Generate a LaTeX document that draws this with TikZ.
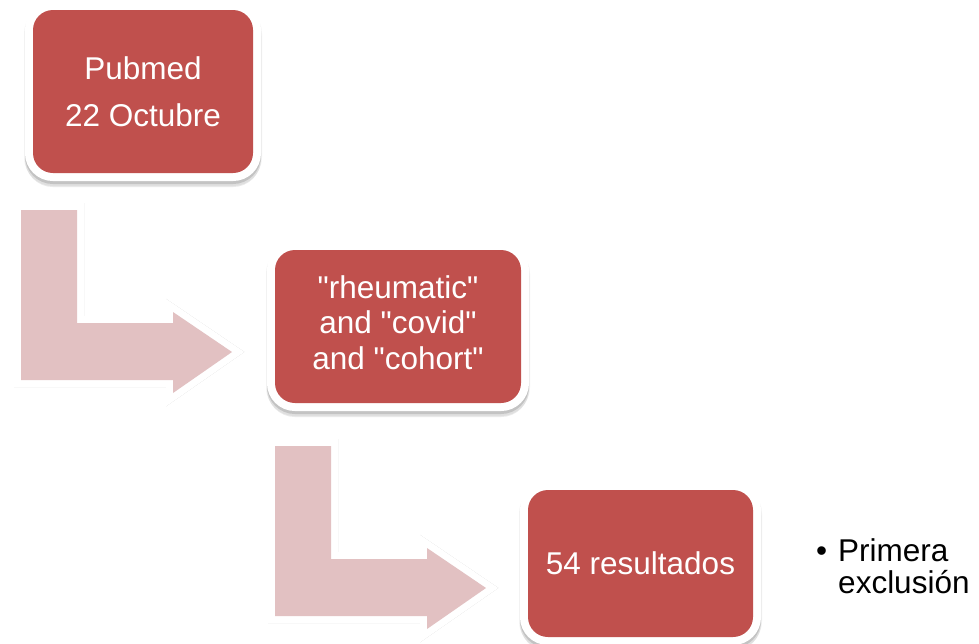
\documentclass[tikz,border=0pt]{standalone}
\usepackage{fontspec}
\setmainfont{Liberation Sans}
\definecolor{boxred}{HTML}{C0504D}
\definecolor{arrowpink}{HTML}{E2C1C2}
\newcommand{\qq}{\textquotedbl}
\begin{document}
\begin{tikzpicture}[x=1pt,y=-1pt,
  box/.style={rectangle, rounded corners=20pt, fill=boxred, text=white, align=center,
    inner sep=0pt, font=\fontsize{31.5}{35.5}\selectfont,
    preaction={draw=black, line width=18pt, opacity=0.05, transform canvas={yshift=-4pt}},
    preaction={draw=black, line width=16pt, opacity=0.08, transform canvas={yshift=-6pt}},
    preaction={draw=black, line width=16pt, opacity=0.12, transform canvas={yshift=-3pt}},
    preaction={draw=white, line width=16pt}},
  arrowpath/.style={insert path={(0,0) -- (56,0) -- (56,113) -- (152,113) -- (152,102)
    -- (211,142) -- (152,183) -- (152,170) -- (0,170) -- cycle}},
  bentarrow/.pic={
    \path[arrowpath, draw=black, fill=black, line width=14pt, opacity=0.08, shift={(-3,6)}];
    \path[arrowpath, draw=black, fill=black, line width=14pt, opacity=0.12, shift={(-2,3)}];
    \path[arrowpath, draw=white, line width=14pt];
    \path[arrowpath, fill=arrowpink];
  }
]
\fill[white] (0,0) rectangle (979,643);
\useasboundingbox (0,0) rectangle (979,643);

\pic at (21,210) {bentarrow};
\pic at (275,446) {bentarrow};

\node[box, minimum width=220pt, minimum height=163pt,
  font=\fontsize{31.5}{47}\selectfont] (pubmed) at (143,91.5) {Pubmed\\22 Octubre};
\node[box, minimum width=246pt, minimum height=153pt] (query) at (398,326.5)
  {\raisebox{4pt}{\begin{tabular}{@{}c@{}}\qq rheumatic\qq\\and \qq covid\qq\\and \qq cohort\qq\end{tabular}}};
\node[box, minimum width=225pt, minimum height=147pt] (results) at (640.5,563.5)
  {54 resultados};

\node[anchor=base west, inner sep=0pt, font=\fontsize{31.5}{32.5}\selectfont] (note) at (816,561)
  {\begin{tabular}[t]{@{}l@{\hspace{11pt}}l@{}}\textbullet & Primera\\ & exclusión\end{tabular}};
\end{tikzpicture}
\end{document}
